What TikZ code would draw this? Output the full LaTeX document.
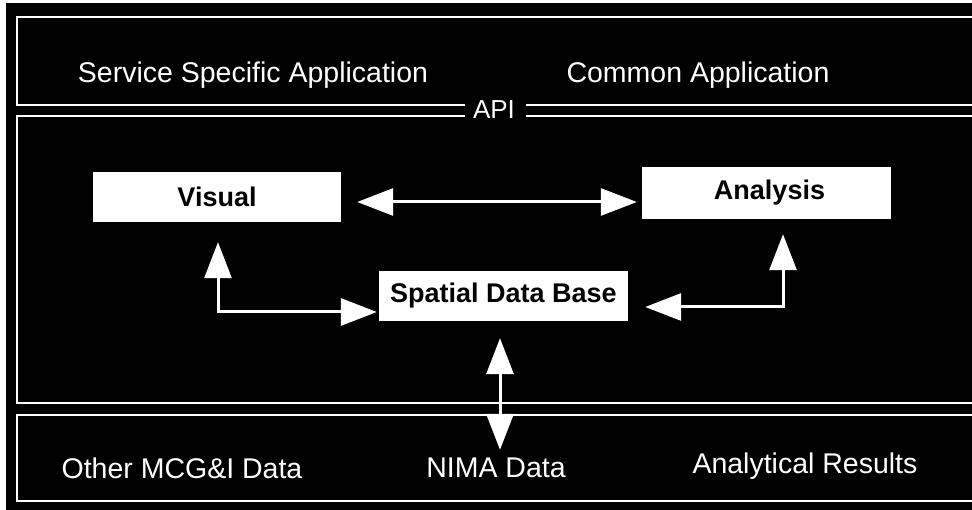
\documentclass[tikz,border=0pt]{standalone}
\usepackage{fontspec}
\setmainfont{Liberation Sans}
\usetikzlibrary{arrows.meta}
\begin{document}
\begin{tikzpicture}[x=1pt,y=-1pt,
  frame/.style={draw=white, line width=2pt},
  lbl/.style={text=white, font=\fontsize{28.5}{31}\selectfont, inner sep=0pt},
  boxn/.style={fill=white, inner sep=0pt, text=black, font=\bfseries\fontsize{27}{30}\selectfont},
  link/.style={draw=white, line width=3pt,
    {Triangle[length=36pt,width=27pt]}-{Triangle[length=36pt,width=27pt]}}]
\useasboundingbox (0,0) rectangle (972,510);
\fill[white] (0,0) rectangle (972,510);
\fill[black] (6,3) rectangle (972,510);
% panel frames
\draw[frame] (975,17) -- (17,17) -- (17,105) -- (465,105);
\draw[frame] (526,105) -- (975,105);
\draw[frame] (465,116) -- (17,116) -- (17,403) -- (975,403);
\draw[frame] (526,116) -- (975,116);
\draw[frame] (975,415) -- (17,415) -- (17,501) -- (975,501);
% labels
\node[lbl] (ssa) at (253,75) {Service Specific Application};
\node[lbl] (ca) at (698,75) {Common Application};
\node[lbl, font=\fontsize{26}{28}\selectfont] (api) at (494,110) {API};
\node[lbl] (other) at (182,468) {Other MCG\&I Data};
\node[lbl] (nima) at (496,468) {NIMA Data};
\node[lbl] (ares) at (805,466) {Analytical Results};
% boxes
\node[boxn, minimum width=248pt, minimum height=50pt] (vis) at (217,197) {Visual\hspace{20pt}};
\node[boxn, minimum width=249pt, minimum height=52pt] (ana) at (766.5,193) {\hspace{6pt}Analysis};
\node[boxn, minimum width=249pt, minimum height=50pt] (sdb) at (503.5,296) {Spatial Data Base\hspace{12pt}};
% connectors
\coordinate (h) at (0,202);
\draw[link, shorten <=16pt, shorten >=5pt] (vis.east |- h) -- (ana.west |- h);
\coordinate (c1) at (218,312);
\draw[link, shorten <=20pt, shorten >=2pt] (vis.south -| c1) -- (c1) -- (sdb.west |- c1);
\coordinate (c2) at (783,307);
\draw[link, shorten <=15pt, shorten >=17pt] (ana.south -| c2) -- (c2) -- (sdb.east |- c2);
\coordinate (v) at (500,0);
\draw[link, shorten <=17pt, shorten >=8pt] (sdb.south -| v) -- (nima.north -| v);
\end{tikzpicture}
\end{document}
